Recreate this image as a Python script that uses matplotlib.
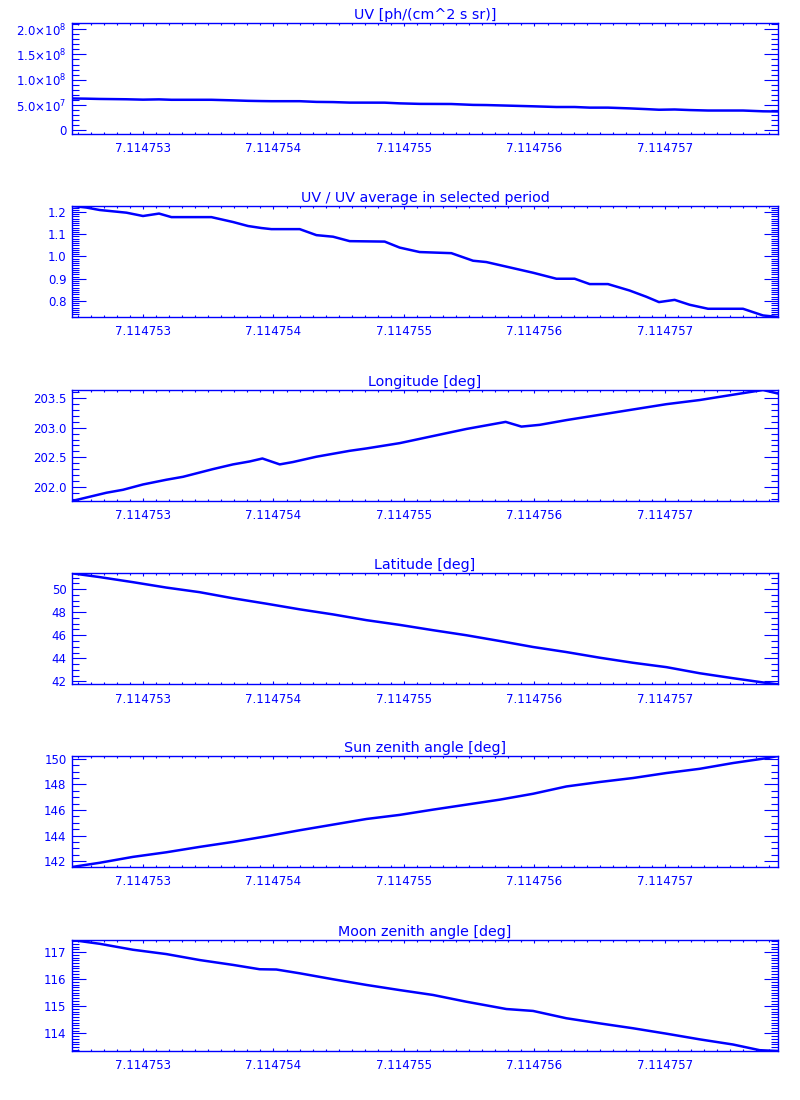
import numpy as np
import matplotlib
matplotlib.use('Agg')
import matplotlib.pyplot as plt
from matplotlib.ticker import FixedLocator, MultipleLocator, FuncFormatter

plt.rcParams['font.family'] = ['DejaVu Sans']

BLUE = '#0000ff'

# time axis: values are offsets in 1e-6 from 7.114752
T0 = 7.114752
x_min_off, x_max_off = 0.456, 5.866
x_major = [7.114753, 7.114754, 7.114755, 7.114756, 7.114757]

# UV / UV average
ratio_t = [0.456, 0.566, 0.668, 0.873, 1.0, 1.123, 1.218, 1.524, 1.690, 1.805,
           1.907, 1.984, 2.201, 2.329, 2.456, 2.584, 2.852, 2.967, 3.120, 3.363,
           3.529, 3.631, 3.810, 3.989, 4.168, 4.308, 4.423, 4.563, 4.729, 4.857,
           4.954, 5.074, 5.189, 5.330, 5.598, 5.751, 5.866]
ratio = [1.227, 1.220, 1.209, 1.197, 1.182, 1.193, 1.177, 1.177, 1.155, 1.137,
         1.128, 1.123, 1.123, 1.096, 1.089, 1.069, 1.067, 1.040, 1.020, 1.015,
         0.981, 0.975, 0.951, 0.927, 0.900, 0.900, 0.876, 0.876, 0.847, 0.819,
         0.795, 0.805, 0.783, 0.765, 0.765, 0.735, 0.728]
uv_mean = 5.14e7  # ph/(cm^2 s sr), average over the selected period

# Longitude
lon_t = [0.456, 0.720, 0.847, 1.0, 1.179, 1.307, 1.536, 1.690, 1.818, 1.915,
         2.048, 2.149, 2.329, 2.584, 2.712, 2.967, 3.222, 3.478, 3.779, 3.900,
         4.040, 4.244, 4.500, 4.755, 5.011, 5.266, 5.521, 5.751, 5.866]
lon = [201.76, 201.90, 201.95, 202.04, 202.12, 202.17, 202.30, 202.38, 202.43, 202.48,
       202.38, 202.42, 202.51, 202.61, 202.65, 202.74, 202.86, 202.98, 203.10, 203.02,
       203.05, 203.13, 203.22, 203.31, 203.40, 203.47, 203.56, 203.64, 203.58]

# Latitude, sun zenith share the same read-off times
geo_t = [0.456, 0.668, 0.923, 1.179, 1.434, 1.690, 1.946, 2.201, 2.456, 2.712,
         2.967, 3.222, 3.478, 3.734, 3.989, 4.244, 4.500, 4.755, 5.011, 5.266,
         5.521, 5.777, 5.866]
lat = [51.38, 51.05, 50.61, 50.14, 49.74, 49.21, 48.74, 48.25, 47.81, 47.31,
       46.90, 46.44, 46.00, 45.50, 44.98, 44.54, 44.05, 43.61, 43.23, 42.70,
       42.27, 41.86, 41.74]
sun = [141.55, 141.88, 142.34, 142.70, 143.12, 143.51, 143.95, 144.42, 144.86, 145.30,
       145.62, 146.03, 146.42, 146.81, 147.27, 147.84, 148.19, 148.50, 148.89, 149.22,
       149.67, 150.05, 150.22]

moon_t = [0.456, 0.668, 0.923, 1.179, 1.434, 1.690, 1.894, 2.022, 2.201, 2.456,
          2.712, 2.967, 3.222, 3.478, 3.785, 3.989, 4.244, 4.500, 4.755, 5.011,
          5.266, 5.521, 5.726, 5.866]
moon = [117.45, 117.31, 117.09, 116.93, 116.71, 116.53, 116.37, 116.36, 116.22, 116.00,
        115.79, 115.60, 115.42, 115.17, 114.90, 114.83, 114.56, 114.37, 114.19, 113.99,
        113.78, 113.59, 113.38, 113.35]


def to_time(off):
    return T0 + np.asarray(off) * 1e-6


def sci_fmt(v, p):
    if abs(v) < 1:
        return '0'
    e = int(np.floor(np.log10(abs(v))))
    return '%.1f×10$^{%d}$' % (v / 10 ** e, e)


uv = np.array(ratio) * uv_mean

panels = [
    ('UV [ph/(cm^2 s sr)]', ratio_t, uv, (-7e6, 2.12e8), 5e7, 1e7, sci_fmt),
    ('UV / UV average in selected period', ratio_t, ratio, None, 0.1, 0.01,
     lambda v, p: '%.1f' % v),
    ('Longitude [deg]', lon_t, lon, None, 0.5, 0.1, lambda v, p: '%.1f' % v),
    ('Latitude [deg]', geo_t, lat, None, 2, 0.5, lambda v, p: '%d' % round(v)),
    ('Sun zenith angle [deg]', geo_t, sun, None, 2, 0.5, lambda v, p: '%d' % round(v)),
    ('Moon zenith angle [deg]', moon_t, moon, None, 1, 0.1, lambda v, p: '%d' % round(v)),
]

fig = plt.figure(figsize=(8, 11), dpi=100)
tops = [23, 206, 390, 573.3, 756, 940]
h = 111

for top, (title, tt, yy, ylim, maj, mnr, fmt) in zip(tops, panels):
    ax = fig.add_axes([72 / 800, 1 - (top + h) / 1100, 706 / 800, h / 1100])
    ax.plot(to_time(tt), yy, color=BLUE, lw=1.8)
    ax.set_xlim(to_time(x_min_off), to_time(x_max_off))
    if ylim is None:
        ylim = (min(yy), max(yy))
    ax.set_ylim(*ylim)

    ax.xaxis.set_major_locator(FixedLocator(x_major))
    ax.xaxis.set_minor_locator(FixedLocator(list(to_time(np.arange(5, 59) / 10))))
    ax.xaxis.set_major_formatter(FuncFormatter(lambda v, p: '%.6f' % v))
    ax.yaxis.set_major_locator(MultipleLocator(maj))
    ax.yaxis.set_minor_locator(MultipleLocator(mnr))
    ax.yaxis.set_major_formatter(FuncFormatter(fmt))

    for s in ax.spines.values():
        s.set_color(BLUE)
        s.set_linewidth(1.0)
    ax.tick_params(axis='both', which='both', direction='in', colors=BLUE,
                   labelcolor=BLUE, labelsize=8.5, width=0.8, top=True, right=True)
    ax.tick_params(axis='y', which='major', length=10, pad=4)
    ax.tick_params(axis='y', which='minor', length=5)
    ax.tick_params(axis='x', which='major', length=2.5, pad=6)
    ax.tick_params(axis='x', which='minor', length=1.5)
    ax.set_title(title, color=BLUE, fontsize=10.3, pad=3)

fig.savefig('out.png', dpi=100, facecolor='white')
